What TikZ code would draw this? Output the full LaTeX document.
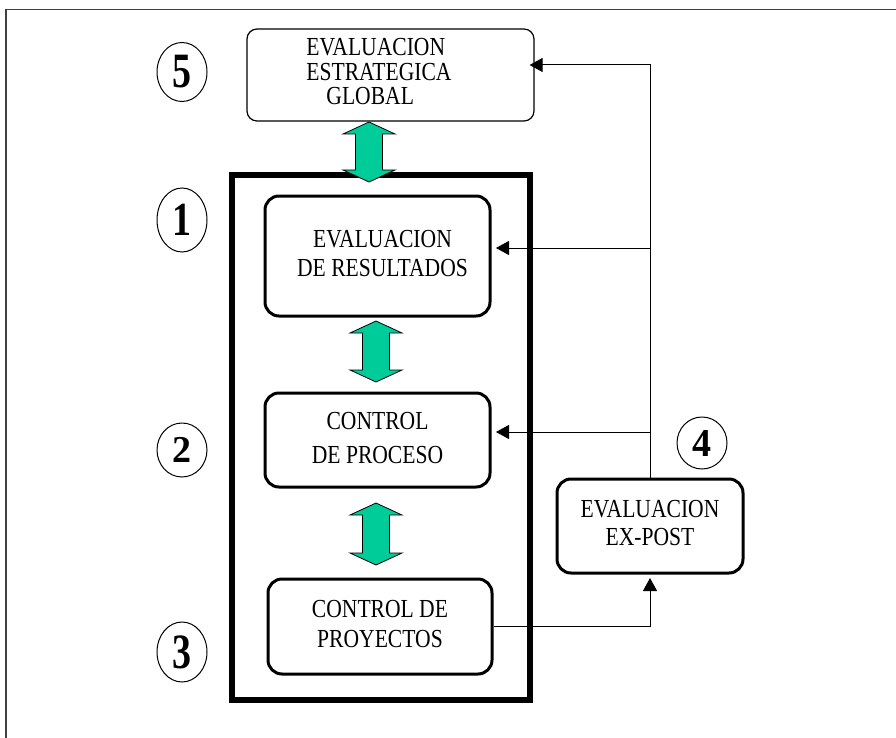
\documentclass[tikz,border=0pt]{standalone}
\usepackage{fontspec}
\setmainfont{Liberation Serif}
\newfontfamily\cfont[FakeStretch=0.83]{Liberation Serif}
\usetikzlibrary{shapes.geometric,arrows.meta,calc}
\definecolor{bgreen}{RGB}{0,204,153}
\newcommand\txtblock[3]{\raisebox{#1}{\hspace*{#2}\begin{tabular}{@{}c@{}}#3\end{tabular}}}
\newcommand\garr[3]{\draw[garrow] (#1,#2) -- (#1+26,#2+12) -- (#1+13.5,#2+12) -- (#1+13.5,#3-12) -- (#1+26,#3-12) -- (#1,#3) -- (#1-26,#3-12) -- (#1-13.5,#3-12) -- (#1-13.5,#2+12) -- (#1-26,#2+12) -- cycle;}
\begin{document}
\begin{tikzpicture}[x=1pt,y=-1pt,
  box/.style={draw, rounded corners=14pt, line width=3pt, inner sep=0pt},
  num/.style={ellipse, draw, line width=1pt, minimum width=50pt, inner sep=0pt, font=\bfseries\fontsize{38}{38}\selectfont},
  conn/.style={line width=1pt, -{Triangle[length=13pt,width=14pt]}},
  garrow/.style={draw=black, line width=0.8pt, fill=bgreen, line join=miter}]
\useasboundingbox (0,0) rectangle (896,738);
\draw[line width=1.5pt, black!75] (6,738) -- (6,9.5) -- (896,9.5);

% outer thick frame
\node[draw, line width=6pt, minimum width=298pt, minimum height=525pt, inner sep=0pt] (frame) at (381,437.5) {};

% boxes
\node[box, line width=1.2pt, rounded corners=10pt, minimum width=287pt, minimum height=92pt,
  font=\cfont\fontsize{26}{23.5}\selectfont] (top) at (390.5,75)
  {\raisebox{3.2pt}{\begin{tabular}{@{}l@{}}EVALUACION\\ESTRATEGICA\\\hspace*{20pt}GLOBAL\end{tabular}}\hspace*{23pt}};
\node[box, minimum width=225pt, minimum height=120pt, font=\cfont\fontsize{26}{29}\selectfont] (r1) at (377.5,256)
  {\txtblock{1.3pt}{10pt}{EVALUACION\\DE RESULTADOS}};
\node[box, minimum width=225pt, minimum height=94pt, font=\cfont\fontsize{26}{34}\selectfont] (r2) at (377.5,440)
  {\txtblock{5.8pt}{0pt}{CONTROL\\DE PROCESO}};
\node[box, minimum width=224pt, minimum height=95pt, font=\cfont\fontsize{26}{30}\selectfont] (r3) at (380,626.5)
  {\txtblock{-7.5pt}{0pt}{CONTROL DE\\PROYECTOS}};
\node[box, minimum width=186pt, minimum height=94pt, font=\cfont\fontsize{26}{28}\selectfont] (expost) at (650,526)
  {\txtblock{-9.4pt}{0pt}{EVALUACION\\EX-POST}};

% numbered ellipses
\node[num, minimum height=59pt] (n5) at (182,72) {\scalebox{1}[1.3]{5}};
\node[num, minimum height=64pt] (n1) at (182,220) {\scalebox{1}[1.25]{1}};
\node[num, minimum height=54pt] (n2) at (182,450) {2};
\node[num, minimum height=60pt] (n3) at (182,652) {\scalebox{1}[1.3]{3}};
\node[num, minimum height=52pt] (n4) at (702,443) {\scalebox{1}[1.04]{4}};

% green double arrows
\garr{369}{122}{182}
\garr{376}{321}{382}
\garr{376}{503}{565}

% connectors
\coordinate (j1) at (650,65);
\coordinate (j2) at (650,248);
\coordinate (j3) at (650,432);
\draw[conn, shorten >=-5pt] (expost.north) -- (j1) -- (top.east |- j1);
\draw[conn, shorten >=4.5pt] (j2) -- (r1.east |- j2);
\draw[conn, shorten >=4.5pt] (j3) -- (r2.east |- j3);
\draw[conn, shorten >=3.5pt] (r3.east) -| (expost.south);
\end{tikzpicture}
\end{document}
